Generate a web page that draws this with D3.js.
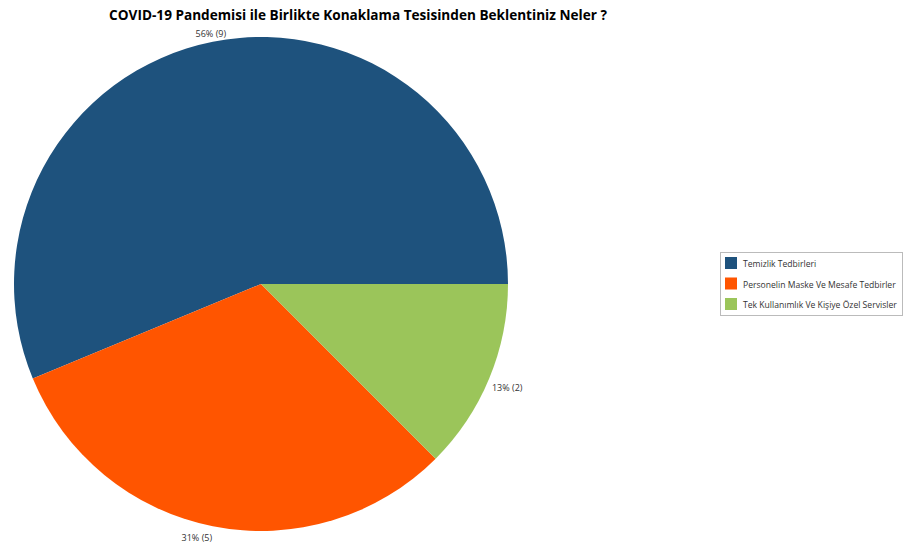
<!DOCTYPE html>
<html>
<head>
<meta charset="utf-8">
<script src="https://cdn.jsdelivr.net/npm/d3@7"></script>
<style>
  html, body { margin: 0; padding: 0; background: #fff; }
  svg { display: block; font-family: "Open Sans", "Noto Sans", sans-serif; }
</style>
</head>
<body>
<svg id="chart" width="907" height="546"></svg>
<script>
// Survey answers and their counts
const categories = ["Temizlik Tedbirleri", "Personelin Maske Ve Mesafe Tedbirler", "Tek Kullanımlık Ve Kişiye Özel Servisler"];
const counts = [9, 5, 2];
const colors = ["#1e527d", "#ff5500", "#9bc55a"];
const titleText = "COVID-19 Pandemisi ile Birlikte Konaklama Tesisinden Beklentiniz Neler ?";

const svg = d3.select("#chart");
const cx = 261, cy = 284, r = 247;

svg.append("text")
  .attr("x", 358).attr("y", 20)
  .attr("text-anchor", "middle")
  .style("font-size", "13.6px").style("font-weight", "bold")
  .attr("fill", "#000")
  .text(titleText);

const total = d3.sum(counts);
const data = categories.map((c, i) => ({ name: c, value: counts[i], color: colors[i] }));

// Slices start at 3 o'clock and run counter-clockwise
const pie = d3.pie().value(d => d.value).sort(null)
  .startAngle(Math.PI / 2).endAngle(Math.PI / 2 - 2 * Math.PI);
const arcs = pie(data);
const arc = d3.arc().innerRadius(0).outerRadius(r);

const g = svg.append("g").attr("transform", `translate(${cx},${cy})`);
g.selectAll("path").data(arcs).join("path")
  .attr("d", arc)
  .attr("fill", d => d.data.color);

// Value labels outside each slice
const labelOffsets = [[-2, -8], [-16, 12], [18, 9]];
g.selectAll("text.lbl").data(arcs).join("text")
  .attr("class", "lbl")
  .attr("x", (d, i) => {
    const a = (d.startAngle + d.endAngle) / 2;
    return Math.sin(a) * r + labelOffsets[i][0];
  })
  .attr("y", (d, i) => {
    const a = (d.startAngle + d.endAngle) / 2;
    return -Math.cos(a) * r + labelOffsets[i][1] + 3;
  })
  .attr("text-anchor", "middle")
  .style("font-size", "9px")
  .attr("fill", "#333")
  .text(d => `${Math.round(d.data.value / total * 100)}% (${d.data.value})`);

// Legend
const lg = svg.append("g").attr("transform", "translate(720,252)");
lg.append("rect").attr("x", 0.5).attr("y", 0.5).attr("width", 182).attr("height", 63)
  .attr("fill", "#fff").attr("stroke", "#bbb");
const items = lg.selectAll("g.item").data(data).join("g")
  .attr("class", "item")
  .attr("transform", (d, i) => `translate(5,${5 + i * 20.5})`);
items.append("rect").attr("width", 12).attr("height", 12).attr("fill", d => d.color);
items.append("text").attr("x", 18).attr("y", 10)
  .style("font-size", "8.6px").attr("fill", "#333")
  .text(d => d.name);
</script>
</body>
</html>
